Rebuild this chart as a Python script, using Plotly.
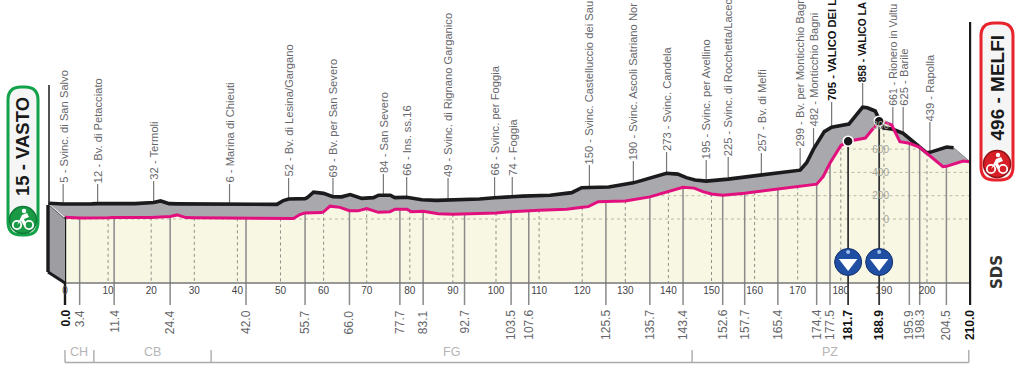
import plotly.graph_objects as go

# ---------- data ----------
profile_km = [0, 3.4, 10, 11.4, 20, 22, 24.4, 26, 28, 30, 40, 42, 50, 53, 54.5, 55.7, 59.5, 60, 61.5, 63.8,
              66, 68, 70, 72.7, 75.4, 76.6, 77.7, 79.3, 80, 80.4, 83.1, 86.6, 90, 92.7, 96.3, 100, 103.5,
              107.6, 110, 116.4, 118, 120, 121.4, 123.7, 125.5, 130, 135.7, 140, 143.4, 146, 148, 150,
              152.6, 157.7, 160, 165.4, 170, 174.4, 175.9, 177.5, 180, 181.7, 185.7, 186.9, 188.9, 190,
              191.8, 193.7, 195.9, 198.3, 200, 203.7, 204.5, 206.9, 208.4, 210]
profile_m = [15, 8, 10, 12, 12, 14, 22, 35, 12, 10, 6, 6, 5, 5, 38, 52, 55, 62, 110, 100,
             71, 70, 90, 57, 63, 84, 84, 84, 70, 63, 66, 45, 40, 42, 45, 52, 62,
             74, 76, 84, 94, 100, 106, 148, 150, 154, 190, 240, 273, 265, 235, 215,
             205, 222, 232, 257, 280, 299, 363, 480, 630, 668, 695, 750, 840, 835,
             807, 663, 650, 615, 565, 449, 452, 483, 498, 492]

waypoint_km = [3.4, 11.4, 24.4, 42.0, 55.7, 66.0, 77.7, 83.1, 92.7, 103.5, 107.6, 125.5, 135.7, 143.4,
               152.6, 157.7, 165.4, 174.4, 177.5, 181.7, 188.9, 195.9, 198.3, 204.5]
waypoint_names = ["5 - Svinc. di San Salvo", "12 - Bv. di Petacciato", "32 - Termoli", "6 - Marina di Chieuti",
                  "52 - Bv. di Lesina/Gargano", "69 - Bv. per San Severo", "84 - San Severo", "66 - Ins. ss.16",
                  "49 - Svinc. di Rignano Garganico", "66 - Svinc. per Foggia", "74 - Foggia",
                  "150 - Svinc. Castelluccio dei Sau", "190 - Svinc. Ascoli Satriano Nor", "273 - Svinc. Candela",
                  "195 - Svinc. per Avellino", "225 - Svinc. di Rocchetta/Lacec", "257 - Bv. di Melfi",
                  "299 - Bv. per Monticchio Bagr", "482 - Monticchio Bagni", "705 - VALICO DEI L",
                  "858 - VALICO LA", "661 - Rionero in Vultu", "625 - Barile", "439 - Rapolla"]
bold_km = [0.0, 181.7, 188.9, 210.0]
gp_km = [181.7, 188.9]
tick_km = list(range(0, 201, 10))
elev_ticks = [0, 200, 400, 600, 800]
region_names = ["CH", "CB", "FG", "PZ"]
region_edges_km = [0, 6.7, 33.9, 145.5, 209.7]
grid_level_m = [0, 200, 400, 600, 800]
grid_from_km = [0, 137, 175.5, 180, 187]
grid_to_km = [210, 210, 210, 198, 192]
start_title = "15 - VASTO"
finish_title = "496 - MELFI"

# ---------- layout constants ----------
W, H = 1024, 378
X0, XS = 65.0, 4.31      # px of km 0, px per km
Y0, YS = 219.0, 0.1165   # px of 0 m, px per m
BACK_DX, BACK_DY = -16.5 / XS, 14 / YS
label_bottom_px = [184, 184, 181, 184, 178, 178, 174, 177, 178, 177, 177, 165, 161, 152,
                   160, 157, 153, 148, 128, 102, 83, 107, 107, 122]
label_size_px = [11.2] * 20 + [10.2, 10.6, 11.2, 11.2]
AXIS_PX, LEADER_END_PX, PIN_PX = 283, 305, 262
NARROW = "Liberation Sans"
GREY, DARK, PINK, PALE = "#a9a9ad", "#1b1b1d", "#e2107f", "#f7f7e3"


def to_m(py):
    return (Y0 - py) / YS


def fx(px):
    return px / W


def fy(py):
    return 1 - py / H


elev = dict(zip(profile_km, profile_m))
back_km = [k + BACK_DX for k in profile_km]
back_m = [m + BACK_DY for m in profile_m]
axis_m = to_m(AXIS_PX)
end_m = to_m(LEADER_END_PX)

fig = go.Figure()


def line(xs, ys, color, width, dash=None, mode="lines"):
    fig.add_trace(go.Scatter(x=xs, y=ys, mode=mode, hoverinfo="skip", showlegend=False,
                             line=dict(color=color, width=width, dash=dash)))


# grey flank of the relief
fig.add_trace(go.Scatter(x=back_km + profile_km[::-1], y=back_m + profile_m[::-1], fill="toself", mode="none",
                         fillcolor=GREY, hoverinfo="skip", showlegend=False))
# pale front face
fig.add_trace(go.Scatter(x=[0] + profile_km + [210], y=[axis_m] + profile_m + [axis_m], fill="toself", mode="none",
                         fillcolor=PALE, hoverinfo="skip", showlegend=False))
# dotted elevation grid
for lv, a, b in zip(grid_level_m, grid_from_km, grid_to_km):
    line([a, b], [lv, lv], "#b9b9a4", 1, "dot")
# dotted 10-km grid
for k in tick_km[1:]:
    line([k, k], [elev[k], axis_m], "#8f8f88", 1, "dot")
# waypoint lines on the front face, running below the axis
for k in waypoint_km:
    if k not in gp_km:
        line([k, k], [elev[k], end_m], "#8a8a8a", 1.5)
# axis line
line([0, 210], [axis_m, axis_m], "#77777a", 1.6)
# leaders from the ridge up to the labels
for k, b in zip(waypoint_km, label_bottom_px):
    line([k + BACK_DX, k + BACK_DX], [elev[k] + BACK_DY, to_m(b)], "#77777a", 1.2)
# ridge and front lines
end_x = [210 + BACK_DX, 210]
end_y = [elev[210] + BACK_DY, elev[210]]
line(end_x, end_y, "#8d8d90", 1)
line(back_km, back_m, DARK, 3.6)
line(profile_km, profile_m, PINK, 3)
# frame lines
line([0, 0], [elev[0], end_m], DARK, 2.4)
line([210, 210], [to_m(22), end_m], DARK, 2.2)
# GPM lines, dots and pins
for k in gp_km:
    line([k, k], [elev[k], end_m], "#333336", 1.8)
fig.add_trace(go.Scatter(x=gp_km, y=[elev[k] for k in gp_km], mode="markers", hoverinfo="skip", showlegend=False,
                         marker=dict(size=10, color="#17171a", line=dict(color="#ffffff", width=1.5))))
fig.add_trace(go.Scatter(x=gp_km, y=[to_m(PIN_PX)] * 2, mode="markers", hoverinfo="skip", showlegend=False,
                         marker=dict(size=27, color="#1f4ea3", line=dict(color="#14306b", width=1))))
fig.add_trace(go.Scatter(x=gp_km, y=[to_m(PIN_PX + 1)] * 2, mode="markers", hoverinfo="skip", showlegend=False,
                         marker=dict(size=16, color="#ffffff", symbol="triangle-down")))
fig.add_trace(go.Scatter(x=gp_km, y=[to_m(PIN_PX - 10)] * 2, mode="markers", hoverinfo="skip", showlegend=False,
                         marker=dict(size=4, color="#9fc0e8")))

shapes = []


def rrect(x0, y0, x1, y1, r, fill, edge, lw):
    p = (f"M {fx(x0+r)} {fy(y0)} L {fx(x1-r)} {fy(y0)} Q {fx(x1)} {fy(y0)} {fx(x1)} {fy(y0+r)} "
         f"L {fx(x1)} {fy(y1-r)} Q {fx(x1)} {fy(y1)} {fx(x1-r)} {fy(y1)} L {fx(x0+r)} {fy(y1)} "
         f"Q {fx(x0)} {fy(y1)} {fx(x0)} {fy(y1-r)} L {fx(x0)} {fy(y0+r)} Q {fx(x0)} {fy(y0)} {fx(x0+r)} {fy(y0)} Z")
    shapes.append(dict(type="path", path=p, xref="paper", yref="paper", fillcolor=fill,
                       line=dict(color=edge, width=lw)))


def poly(pts, fill, edge=None, lw=0):
    p = "M " + " L ".join(f"{fx(a)} {fy(b)}" for a, b in pts) + " Z"
    shapes.append(dict(type="path", path=p, xref="paper", yref="paper", fillcolor=fill,
                       line=dict(color=edge or fill, width=lw)))


def circle(cx, cy, r, fill, edge=None, lw=0):
    shapes.append(dict(type="circle", xref="paper", yref="paper", x0=fx(cx - r), x1=fx(cx + r),
                       y0=fy(cy + r), y1=fy(cy - r), fillcolor=fill,
                       line=dict(color=edge or fill, width=lw)))


def seg(x0, y0, x1, y1, color, lw):
    shapes.append(dict(type="line", xref="paper", yref="paper", x0=fx(x0), x1=fx(x1), y0=fy(y0), y1=fy(y1),
                       line=dict(color=color, width=lw)))


def bike(cx, cy, ring, fill):
    circle(cx, cy, 13.5, fill, ring, 1.5)
    circle(cx - 6, cy + 5, 4.2, "rgba(0,0,0,0)", "#ffffff", 1.8)
    circle(cx + 6, cy + 5, 4.2, "rgba(0,0,0,0)", "#ffffff", 1.8)
    poly([(cx - 6, cy + 5), (cx - 1, cy - 5), (cx + 4, cy - 7), (cx + 6, cy - 3), (cx + 1, cy - 1), (cx + 3, cy + 4),
          (cx + 1, cy + 6), (cx - 2, cy + 1)], "#ffffff")
    circle(cx + 1, cy - 9, 2.2, "#ffffff")


# left wall of the relief
poly([(49, 205), (65, 219), (65, AXIS_PX), (49, 272)], "#9d9da2")
seg(49, 85, 49, 205, "#28282a", 1.6)
seg(48, 205, 48, 272, DARK, 3.4)
seg(48, 272, 65, AXIS_PX, DARK, 3)
seg(49, 205, 65, 219, "#55555a", 1)
# region brackets
for e in region_edges_km:
    ex = X0 + e * XS
    seg(ex, 350, ex, 362.5, "#ababab", 1.4)
seg(X0 + region_edges_km[0] * XS, 362.5, X0 + region_edges_km[-1] * XS, 362.5, "#ababab", 1.4)
# start and finish cartouches
rrect(8, 87, 38, 235, 13, "#f5f5f5", "#12a34a", 3)
rrect(981, 23, 1013, 180, 13, "#f5f5f5", "#e8232c", 3)
bike(23, 220, "#0d7a37", "#1a9a45")
bike(997, 164, "#8f1218", "#d81f27")

annotations = []


def text(x, y, s, size, color, xref="x", xanchor="center", yanchor="middle", family=NARROW, angle=-90):
    annotations.append(dict(x=x, y=y, xref=xref, yref="paper", text=s, showarrow=False, textangle=angle,
                            xanchor=xanchor, yanchor=yanchor, font=dict(family=family, size=size, color=color),
                            borderpad=0, borderwidth=0))


for k, name, b, size in zip(waypoint_km, waypoint_names, label_bottom_px, label_size_px):
    s = name
    col = "#66666a"
    if k in gp_km:
        s, col = f"<b>{name}</b>", "#111111"
    text(k + BACK_DX, fy(b - 1), s, size, col, yanchor="bottom")
for k in [0.0] + waypoint_km + [210.0]:
    s = f"{k:.1f}"
    if k in bold_km:
        text(k, fy(310), f"<b>{s}</b>", 12, "#111111", yanchor="top")
    else:
        text(k, fy(310), s, 12, "#66666a", yanchor="top")
for n, a, b in zip(region_names, region_edges_km, region_edges_km[1:]):
    text((a + b) / 2, fy(352), n, 12.5, "#b5b5b5", angle=0)
text(fx(23), fy(147), f"<b>{start_title}</b>", 18.5, "#1a1a1a", xref="paper")
text(fx(997), fy(87.5), f"<b>{finish_title}</b>", 19, "#1a1a1a", xref="paper")
text(fx(997), fy(272), "<b>SDS</b>", 15, "#333333", xref="paper", family="DejaVu Sans")

fig.update_layout(
    width=W, height=H, margin=dict(l=0, r=0, t=0, b=0), paper_bgcolor="#ffffff", plot_bgcolor="#ffffff",
    showlegend=False, shapes=shapes, annotations=annotations,
    xaxis=dict(range=[(0 - X0) / XS, (W - X0) / XS], domain=[0, 1], anchor="free", position=1 - AXIS_PX / H,
               tickmode="array", tickvals=tick_km, ticktext=[str(k) for k in tick_km],
               showgrid=False, zeroline=False, showline=False, ticks="", ticklabelstandoff=0,
               tickfont=dict(family=NARROW, size=10, color="#444448")),
    yaxis=dict(range=[to_m(H), to_m(0)], domain=[0, 1], anchor="free", position=889 / W,
               tickmode="array", tickvals=elev_ticks, ticktext=[str(v) for v in elev_ticks],
               showgrid=False, zeroline=False, showline=False, ticks="",
               tickfont=dict(family=NARROW, size=10, color="#a5a59a")),
)
fig.write_html("out.html", config=dict(displayModeBar=False),
               post_script="document.body.style.margin='0';document.documentElement.style.overflow='hidden';")
